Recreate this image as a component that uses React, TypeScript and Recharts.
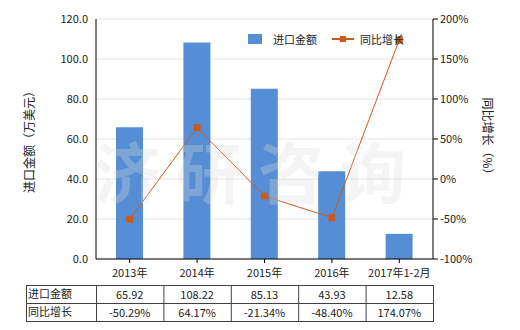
import React from 'react';
import { ComposedChart, Bar, Line, XAxis, YAxis, CartesianGrid, Legend } from 'recharts';

const categories = ['2013年', '2014年', '2015年', '2016年', '2017年1-2月'];
const importValues = [65.92, 108.22, 85.13, 43.93, 12.58];
const growthValues = [-50.29, 64.17, -21.34, -48.4, 174.07];
const importLabels = ['65.92', '108.22', '85.13', '43.93', '12.58'];
const growthLabels = ['-50.29%', '64.17%', '-21.34%', '-48.40%', '174.07%'];
const leftTicks = [0, 20, 40, 60, 80, 100, 120];
const rightTicks = [-100, -50, 0, 50, 100, 150, 200];
const seriesNames = ['进口金额', '同比增长'];
const leftTitle = '进口金额（万美元）';
const rightTitle = '同比增长（%）';
const watermark = '济研咨询';

const data = categories.map((c, i) => ({ name: c, imp: importValues[i], growth: growthValues[i] }));

const FONT = '"Noto Sans CJK SC", "Noto Sans", sans-serif';
const BAR = '#558ED5';
const LINE = '#CC5A1C';
const TXT = '#222';

const PLOT_L = 96;
const PLOT_R = 433;
const COLW = (PLOT_R - PLOT_L) / categories.length;

const SquareDot = (props: any) => {
  const { cx, cy } = props;
  if (cx == null || cy == null) return null;
  return <rect x={cx - 3.5} y={cy - 3.5} width={7} height={7} fill={LINE} />;
};

const LegendContent = () => (
  <div style={{ display: 'flex', alignItems: 'center', fontFamily: FONT, fontSize: 11, color: TXT }}>
    <span style={{ width: 14, height: 10, background: BAR, display: 'inline-block', marginRight: 11 }} />
    <span style={{ marginRight: 15 }}>{seriesNames[0]}</span>
    <svg width={22} height={10} style={{ marginRight: 6 }}>
      <line x1={0} y1={5} x2={22} y2={5} stroke={LINE} strokeWidth={2} />
      <rect x={8} y={2} width={6} height={6} fill={LINE} />
    </svg>
    <span>{seriesNames[1]}</span>
  </div>
);

const tickStyle = { fontSize: 11, fill: TXT, fontFamily: FONT };

export default function App() {
  const rowTop = 285;
  const rowH = 18;
  return (
    <div style={{ position: 'absolute', left: 0, top: 0, width: 520, height: 330, background: '#fff', fontFamily: FONT }}>
      <ComposedChart width={520} height={330} data={data} margin={{ top: 19, right: 0, left: 0, bottom: 0 }} barCategoryGap="30%">
        <CartesianGrid vertical={false} stroke="#e3e3e3" yAxisId="left" />
        <XAxis dataKey="name" height={71} tick={tickStyle} tickLine={{ stroke: '#000' }} axisLine={{ stroke: '#000' }} tickSize={4} tickMargin={6} interval={0} />
        <YAxis yAxisId="left" width={96} domain={[0, 120]} ticks={leftTicks} tickFormatter={(v: number) => v.toFixed(1)} tick={tickStyle} tickLine={false} axisLine={{ stroke: '#000' }} tickMargin={2}
          label={{ value: leftTitle, angle: -90, position: 'insideLeft', offset: 30, style: { fontSize: 12, fill: TXT, fontFamily: FONT, textAnchor: 'middle' } }} />
        <YAxis yAxisId="right" orientation="right" width={87} domain={[-100, 200]} ticks={rightTicks} tickFormatter={(v: number) => `${v}%`} tick={tickStyle} tickLine={{ stroke: '#000' }} axisLine={{ stroke: '#000' }} tickSize={5} tickMargin={2}
          label={{ value: rightTitle, angle: 90, position: 'insideRight', offset: 33, style: { fontSize: 12, fill: TXT, fontFamily: FONT, textAnchor: 'middle' } }} />
        <Bar yAxisId="left" dataKey="imp" name={seriesNames[0]} fill={BAR} barSize={27} isAnimationActive={false} />
        <Line yAxisId="right" dataKey="growth" name={seriesNames[1]} stroke={LINE} strokeWidth={1} dot={<SquareDot />} activeDot={false} isAnimationActive={false} />
        <Legend layout="horizontal" verticalAlign="middle" align="center" content={<LegendContent />} wrapperStyle={{ position: 'absolute', top: 31, left: 248, width: 180, height: 14 }} />
      </ComposedChart>
      <svg width={520} height={330} style={{ position: 'absolute', left: 0, top: 0, pointerEvents: 'none' }}>
        <text x={258} y={198} textAnchor="middle" fontSize={66} fontWeight="bold" fontFamily={FONT} fill="#dcdcdc" fillOpacity={0.3} letterSpacing={16}>{watermark}</text>
        <g stroke="#404040" strokeWidth={1} fill="none">
          <rect x={26.5} y={rowTop + 0.5} width={PLOT_R - 26} height={rowH * 2} />
          <line x1={26.5} y1={rowTop + rowH + 0.5} x2={PLOT_R + 0.5} y2={rowTop + rowH + 0.5} />
          {categories.map((_, i) => (
            <line key={i} x1={PLOT_L + COLW * i + 0.5} y1={rowTop} x2={PLOT_L + COLW * i + 0.5} y2={rowTop + rowH * 2} />
          ))}
        </g>
        <g fontSize={11} fill={TXT} fontFamily={FONT}>
          <text x={28} y={rowTop + 13}>{seriesNames[0]}</text>
          <text x={28} y={rowTop + rowH + 13}>{seriesNames[1]}</text>
          {categories.map((_, i) => (
            <text key={'a' + i} x={PLOT_L + COLW * (i + 0.5)} y={rowTop + 14} textAnchor="middle">{importLabels[i]}</text>
          ))}
          {categories.map((_, i) => (
            <text key={'b' + i} x={PLOT_L + COLW * (i + 0.5)} y={rowTop + rowH + 14} textAnchor="middle">{growthLabels[i]}</text>
          ))}
        </g>
      </svg>
    </div>
  );
}
